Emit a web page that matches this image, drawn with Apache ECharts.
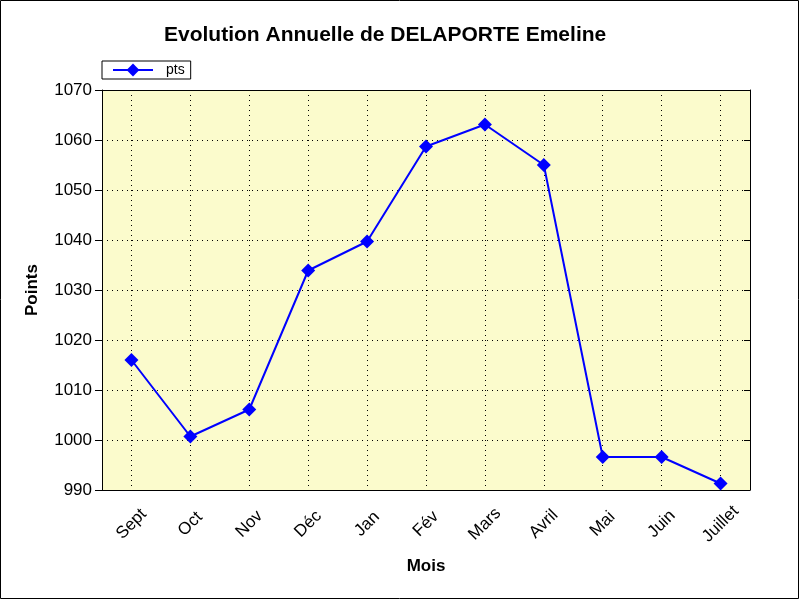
<!DOCTYPE html>
<html>
<head>
<meta charset="utf-8">
<script src="https://cdn.jsdelivr.net/npm/echarts@6/dist/echarts.min.js"></script>
<style>
html,body{margin:0;padding:0;background:#fff;}
#c{width:801px;height:601px;}
</style>
</head>
<body>
<div id="c"></div>
<script>
const titleText = 'Evolution Annuelle de DELAPORTE Emeline';
const months = ['Sept','Oct','Nov','Déc','Jan','Fév','Mars','Avril','Mai','Juin','Juillet'];
const pts = [1016, 1000.7, 1006.1, 1033.9, 1039.7, 1058.7, 1063.1, 1055, 996.6, 996.6, 991.3];
const seriesName = 'pts';
const yMin = 990, yMax = 1070, yStep = 10;
const xName = 'Mois', yName = 'Points';

const font = '"Liberation Sans", Arial, sans-serif';
const chart = echarts.init(document.getElementById('c'), null, {renderer:'canvas'});
chart.setOption({
  animation:false,
  backgroundColor:'#ffffff',
  title:{text:titleText, left:159, top:20,
    textStyle:{fontFamily:font, fontWeight:'bold', fontSize:21, color:'#000'}},
  legend:{
    left:102, top:61, orient:'horizontal',
    padding:[2,6,2,10],
    borderColor:'#000', borderWidth:1, backgroundColor:'#fff',
    itemWidth:40, itemHeight:16,
    textStyle:{fontFamily:font, fontSize:14, color:'#000', padding:[0,0,0,8]},
    data:[seriesName]
  },
  grid:{left:102, right:51, top:90, bottom:111, show:true, backgroundColor:'#fbfbcc', borderWidth:0},
  xAxis:[{
    type:'category', data:months, boundaryGap:true, position:'bottom',
    axisLine:{lineStyle:{color:'#000', width:1}},
    axisTick:{alignWithLabel:true, length:7, inside:false, lineStyle:{color:'#000'}},
    axisLabel:{rotate:45, align:'center', verticalAlign:'middle', margin:34, interval:0,
      fontFamily:font, fontSize:17, color:'#000'},
    splitLine:{show:true, alignWithLabel:true, lineStyle:{color:'#000', type:[1,4], width:1}},
    name:xName, nameLocation:'middle', nameGap:68,
    nameTextStyle:{fontFamily:font, fontWeight:'bold', fontSize:17, color:'#000', verticalAlign:'top'}
  },{
    type:'category', data:months, boundaryGap:true, position:'top',
    axisLine:{lineStyle:{color:'#000', width:1}},
    axisTick:{alignWithLabel:true, length:6, inside:true, lineStyle:{color:'#000'}},
    axisLabel:{show:false}, splitLine:{show:false}
  }],
  yAxis:[{
    type:'value', min:yMin, max:yMax, interval:yStep, position:'left',
    axisLine:{show:true, lineStyle:{color:'#000', width:1}},
    axisTick:{show:true, length:7, lineStyle:{color:'#000'}},
    axisLabel:{margin:10, fontFamily:font, fontSize:17, color:'#000', formatter:function(v){return String(v);}},
    splitLine:{show:true, lineStyle:{color:'#000', type:[1,4], width:1}},
    name:yName, nameLocation:'middle', nameGap:61, nameRotate:90,
    nameTextStyle:{fontFamily:font, fontWeight:'bold', fontSize:17, color:'#000'}
  },{
    type:'value', min:yMin, max:yMax, interval:yStep, position:'right',
    axisLine:{show:true, lineStyle:{color:'#000', width:1}},
    axisTick:{show:true, inside:true, length:6, lineStyle:{color:'#000'}},
    axisLabel:{show:false}, splitLine:{show:false}
  }],
  series:[{
    name:seriesName, type:'line', data:pts, xAxisIndex:0, yAxisIndex:0,
    symbol:'diamond', symbolSize:14,
    lineStyle:{color:'#0000ff', width:2},
    itemStyle:{color:'#0000ff'}
  }],
  graphic:[{type:'rect', shape:{x:0.5, y:0.5, width:798, height:598},
    style:{fill:null, stroke:'#000', lineWidth:1}, silent:true, z:100}]
});
</script>
</body>
</html>
